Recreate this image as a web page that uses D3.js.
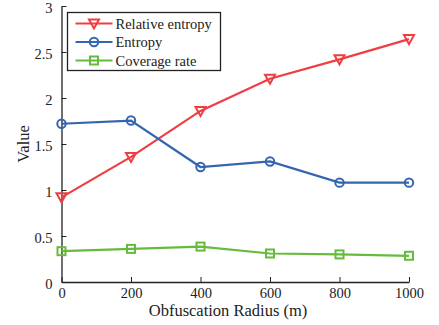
<!DOCTYPE html>
<html>
<head>
<meta charset="utf-8">
<script src="https://cdn.jsdelivr.net/npm/d3@7/dist/d3.min.js"></script>
<style>
  body { margin: 0; background: #fff; }
  svg text { font-family: "Liberation Serif", "Times New Roman", Times, Tinos, "DejaVu Serif", "Noto Serif", serif; }
</style>
</head>
<body>
<script>
const radius = [0, 200, 400, 600, 800, 1000];
const relativeEntropy = [0.92, 1.36, 1.86, 2.21, 2.42, 2.64];
const entropy = [1.72, 1.755, 1.25, 1.31, 1.08, 1.08];
const coverageRate = [0.335, 0.36, 0.385, 0.31, 0.30, 0.285];
const xTicks = [0, 200, 400, 600, 800, 1000];
const yTicks = [0, 0.5, 1, 1.5, 2, 2.5, 3];

const seriesList = [
    {name: 'Relative entropy', values: relativeEntropy, color: '#ef3e42', marker: 'tri'},
    {name: 'Entropy', values: entropy, color: '#3465b0', marker: 'circle'},
    {name: 'Coverage rate', values: coverageRate, color: '#66bb3d', marker: 'square'}
];

const margin = {top: 6, right: 30, bottom: 43, left: 61.5};
const width = 439 - margin.left - margin.right;
const height = 325 - margin.top - margin.bottom;

const x = d3.scaleLinear().domain([0, 1000]).range([0, width]);
const y = d3.scaleLinear().domain([0, 3]).range([height, 0]);

const svg = d3.select('body').append('svg')
    .attr('width', 439)
    .attr('height', 325);

const main = svg.append('g')
    .attr('transform', 'translate(' + margin.left + ',' + margin.top + ')');

// axes, ticks point inward
const xAxis = main.append('g')
    .attr('transform', 'translate(0,' + height + ')')
    .call(d3.axisBottom(x).tickValues(xTicks).tickSizeInner(-5).tickSizeOuter(0).tickPadding(5)
        .tickFormat(d3.format('d')));
const yAxis = main.append('g')
    .call(d3.axisLeft(y).tickValues(yTicks).tickSizeInner(-5).tickSizeOuter(0).tickPadding(9)
        .tickFormat(d3.format('')));

[xAxis, yAxis].forEach(a => {
    a.attr('font-family', null).attr('font-size', 14.5);
    a.selectAll('text').attr('fill', '#222');
    a.selectAll('line').attr('stroke', '#222');
    a.select('.domain').attr('stroke', '#222').attr('stroke-width', 1.3);
});
xAxis.selectAll('text').attr('dy', '0.75em');
yAxis.selectAll('text').attr('dy', '0.45em');

svg.append('text')
    .attr('x', 228)
    .attr('y', 316)
    .attr('text-anchor', 'middle')
    .attr('font-size', 16.5)
    .attr('fill', '#222')
    .text('Obfuscation Radius (m)');

svg.append('text')
    .attr('transform', 'translate(29,' + (margin.top + height / 2) + ') rotate(-90)')
    .attr('text-anchor', 'middle')
    .attr('font-size', 16.5)
    .attr('fill', '#222')
    .text('Value');

function drawMarker(g, type, color, cx, cy) {
    if (type === 'tri') {
        g.append('path')
            .attr('d', 'M' + (cx - 5) + ',' + (cy - 4) + 'L' + (cx + 5) + ',' + (cy - 4) + 'L' + cx + ',' + (cy + 5) + 'Z')
            .attr('fill', 'none').attr('stroke', color).attr('stroke-width', 2);
    } else if (type === 'circle') {
        g.append('circle').attr('cx', cx).attr('cy', cy).attr('r', 4.2)
            .attr('fill', 'none').attr('stroke', color).attr('stroke-width', 2);
    } else {
        g.append('rect').attr('x', cx - 4).attr('y', cy - 4).attr('width', 8).attr('height', 8)
            .attr('fill', 'none').attr('stroke', color).attr('stroke-width', 2);
    }
}

const line = d3.line().x(d => x(d[0])).y(d => y(d[1]));

seriesList.forEach(s => {
    const pts = radius.map((r, i) => [r, s.values[i]]);
    const g = main.append('g');
    g.append('path')
        .attr('d', line(pts))
        .attr('fill', 'none')
        .attr('stroke', s.color)
        .attr('stroke-width', 2.2);
    pts.forEach(p => drawMarker(g, s.marker, s.color, x(p[0]), y(p[1])));
});

// legend
const legend = svg.append('g').attr('transform', 'translate(67.5,12.5)');
legend.append('rect')
    .attr('width', 153).attr('height', 58)
    .attr('fill', '#fff').attr('stroke', '#222').attr('stroke-width', 1.3);
seriesList.forEach((s, i) => {
    const ly = 11 + i * 18.5;
    legend.append('line')
        .attr('x1', 8).attr('x2', 45).attr('y1', ly).attr('y2', ly)
        .attr('stroke', s.color).attr('stroke-width', 2.2);
    drawMarker(legend, s.marker, s.color, 26.5, ly);
    legend.append('text')
        .attr('x', 48).attr('y', ly).attr('dy', '0.35em')
        .attr('font-size', 14.5).attr('fill', '#222')
        .text(s.name);
});
</script>
</body>
</html>
